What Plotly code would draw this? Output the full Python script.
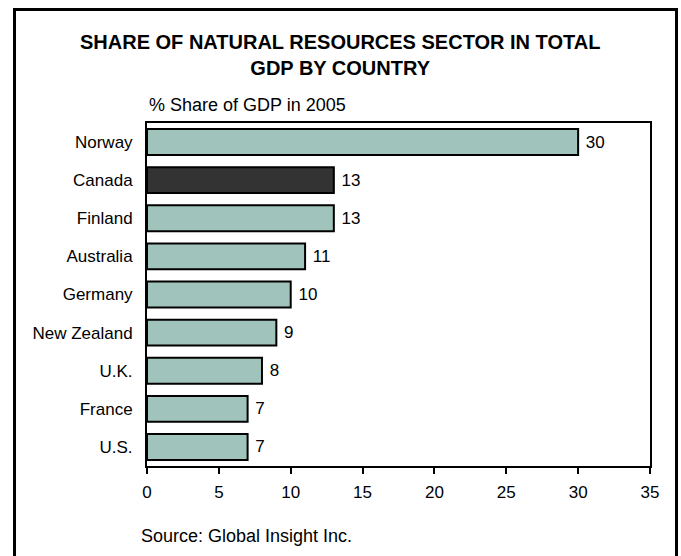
import plotly.graph_objects as go

# Natural resources sector share of GDP, 2005
countries = ["Norway", "Canada", "Finland", "Australia", "Germany",
             "New Zealand", "U.K.", "France", "U.S."]
shares = [30, 13, 13, 11, 10, 9, 8, 7, 7]
highlight = "Canada"

x_ticks = [0, 5, 10, 15, 20, 25, 30, 35]

base_color = "#A0C3BB"
accent_color = "#333333"
bar_colors = [accent_color if c == highlight else base_color for c in countries]

FONT = "Liberation Sans, Arial, sans-serif"

fig = go.Figure(go.Bar(
    x=shares,
    y=countries,
    orientation="h",
    marker=dict(color=bar_colors, line=dict(color="black", width=2)),
    text=["\u00a0" + str(v) for v in shares],
    textposition="outside",
    textfont=dict(family=FONT, size=17, color="black"),
    cliponaxis=False,
    width=0.68,
))

fig.update_layout(
    width=681,
    height=556,
    margin=dict(l=147, r=31, t=123, b=90),
    paper_bgcolor="white",
    plot_bgcolor="white",
    showlegend=False,
    font=dict(family=FONT, size=17, color="black"),
    xaxis=dict(
        range=[0, 35],
        tickvals=x_ticks,
        ticktext=[str(t) for t in x_ticks],
        showgrid=False,
        zeroline=False,
        showline=True,
        linecolor="black",
        linewidth=2,
        mirror=True,
        ticks="outside",
        ticklen=6,
        tickwidth=2,
        tickcolor="black",
        ticklabelstandoff=4,
        tickfont=dict(family=FONT, size=17),
    ),
    yaxis=dict(
        categoryorder="array",
        categoryarray=countries,
        autorange="reversed",
        showgrid=False,
        zeroline=False,
        showline=True,
        linecolor="black",
        linewidth=2,
        mirror=True,
        ticks="",
        ticklabelstandoff=9,
        tickfont=dict(family=FONT, size=17),
    ),
    annotations=[
        dict(
            text="<b>SHARE OF NATURAL RESOURCES SECTOR IN TOTAL<br>GDP BY COUNTRY</b>",
            xref="paper", yref="paper", x=0.384, y=1.198,
            xanchor="center", yanchor="middle", showarrow=False,
            font=dict(family=FONT, size=20, color="black"),
        ),
        dict(
            text="% Share of GDP in 2005",
            xref="paper", yref="paper", x=0.0, y=1.0525,
            xanchor="left", yanchor="middle", showarrow=False,
            font=dict(family=FONT, size=18, color="black"),
        ),
        dict(
            text="Source: Global Insight Inc.",
            xref="paper", yref="paper", x=-0.016, y=-0.204,
            xanchor="left", yanchor="middle", showarrow=False,
            font=dict(family=FONT, size=18, color="black"),
        ),
    ],
    shapes=[
        # frame around the whole exhibit
        dict(
            type="rect", xref="paper", yref="paper",
            x0=-0.2634, x1=1.0527, y0=-0.30, y1=1.331,
            line=dict(color="black", width=3),
            fillcolor="rgba(0,0,0,0)",
            layer="above",
        ),
    ],
)

fig.write_html("out.html")
